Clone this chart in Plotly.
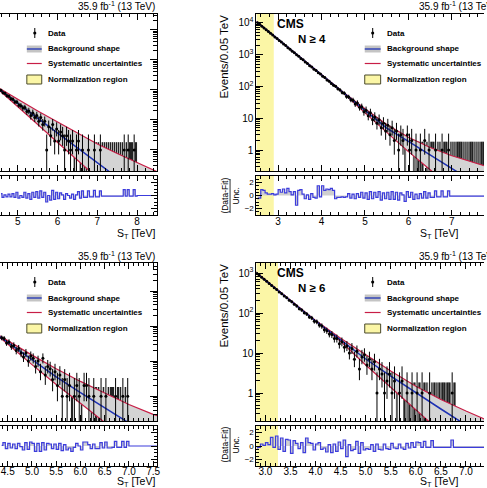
import numpy as np
import plotly.graph_objects as go

W, H = 487, 488
FONT = "Liberation Sans"
BIN = 0.05

# ---------------- data ----------------
# Panel A (top-left): counts per 0.05 TeV bin, first bin centre 4.575
A_first_bin = 4.575
A_counts = [98, 80, 77, 64, 62, 51, 49, 40, 40, 31, 30, 25, 26, 19, 20, 14, 17, 12, 14, 9, 12, 7, 9,
            1, 6, 3, 7, 2, 5, 2, 4, 3, 1, 3, 2, 1, 2, 0, 1, 2, 0, 1, 0, 0, 1, 0, 0, 1, 0, 0, 1,
            0, 0, 0, 0, 0, 0, 0, 0, 0, 0, 0,
            1, 0, 1, 0, 0, 1, 0]
A_pull = [0.3, -0.3, 0.1, -0.2, 0.2, -0.2, 0.3, -0.3, 0.5, -0.4,
          0.0, -0.3, 0.5, -0.4, 0.3, -0.6, 0.5, -0.3, 0.6, -0.4,
          0.7, -0.3, 0.5, -1.0, 0.0, -0.7, 0.8, -0.6, 0.5, -0.5,
          0.4, 0.1, -0.6, 0.3, 0.0, -0.4, 0.2, -0.6, 0.1, 0.6,
          -0.4, 0.7, -0.3, -0.3, 0.7, -0.2, -0.2, 0.8, -0.2, -0.2,
          0.7, -0.1, -0.1, -0.1, -0.1, -0.1, -0.1, -0.1, -0.1, -0.1,
          -0.1, -0.1, 0.9, -0.1, 0.9, -0.1, -0.1, 0.9, -0.1, 0.0,
          0, 0, 0, 0, 0, 0, 0, 0, 0]
A_curve_st = [4.5, 5.0, 5.5, 6.0, 6.5, 7.0, 7.5, 8.0, 8.5]
A_fit = [112, 35.5, 11.2, 3.55, 1.15, 0.37, 0.12, 0.04, 0.013]
A_sys_up = [120, 47.9, 20.0, 8.5, 3.7, 1.58, 0.76, 0.37, 0.19]
A_sys_dn = [107, 28.2, 7.1, 1.78, 0.45, 0.11, 0.028, 0.007, 0.002]

# Panel B (top-right): N >= 4
B_first_bin = 2.525
B_counts = [10150, 9010, 7850, 6950, 6060, 5380, 4690, 4150, 3610, 3210,
            2790, 2490, 2150, 1930, 1660, 1490, 1280, 1150, 990, 890,
            760, 690, 590, 530, 450, 410, 350, 318, 270, 245,
            210, 190, 160, 147, 125, 110, 101, 84, 78, 64,
            61, 48, 47, 38, 37, 28, 30, 22, 23, 16,
            18, 12, 15, 9, 11, 7, 9, 5, 7, 4,
            6, 3, 5, 2, 4, 1, 3, 2, 0, 3,
            1, 2, 0, 1, 0, 1, 0, 2, 0, 1,
            0, 0, 1, 0, 0, 1, 0, 0, 1, 0,
            0, 0, 0, 0, 0, 0, 0, 0, 0, 0, 0, 0, 0, 0, 0, 0, 0, 0, 0, 0]
B_pull = [-0.5, -0.4, 0.9, 0.8, 0.4, 0.2, 0.2, 0.3, 0.1, 0.2,
          0.9, 0.5, 1.0, 0.4, 1.1, 0.6, 0.1, 0.6, -1.5, 0.8,
          0.9, 0.2, -0.5, 0.1, -0.6, 0.3, -0.3, -0.4, 1.5, -0.2,
          1.5, 0.8, 1.0, 0.9, 1.1, 0.8, -0.5, -0.3, -0.3, -0.2,
          -0.3, -0.2, 0.3, -0.4, 0.2, -0.5, 0.3, -0.3, 0.5, -0.4,
          0.4, -0.6, 0.6, -0.5, 0.5, -0.3, 0.6, -0.7, 0.4, -0.5,
          0.5, -0.6, 0.6, -0.6, 0.5, -0.7, 0.4, 0.1, -0.9, 0.6,
          -0.3, 0.5, -0.6, 0.2, -0.5, 0.3, -0.4, 0.6, -0.4, 0.4,
          -0.3, -0.3, 0.7, -0.2, -0.2, 0.7, -0.2, -0.2, 0.7, -0.1,
          -0.1, -0.1, -0.1, -0.1, -0.1, -0.1, -0.1, -0.1, -0.1, -0.1,
          -0.1, -0.1, -0.1, -0.1, -0.1, -0.1, -0.1, -0.1, -0.1, -0.1]
B_curve_st = [2.5, 3.0, 3.5, 4.0, 4.5, 5.0, 5.5, 6.0, 6.5, 7.0, 7.5, 8.0]
B_fit = [10965, 3020, 832, 229, 64.6, 17.8, 4.9, 1.86, 0.71, 0.26, 0.1, 0.037]
B_sys_up = [11100, 3060, 845, 233, 66.1, 20.0, 6.31, 2.51, 1.20, 0.66, 0.40, 0.25]
B_sys_dn = [10830, 2980, 820, 225, 61.7, 14.8, 3.55, 0.89, 0.24, 0.063, 0.016, 0.004]
B_norm = [2.5, 2.9]

# Panel C (bottom-left)
C_first_bin = 4.375
C_counts = [46, 44, 33, 35, 26, 28, 20, 23, 17, 13,
            17, 10, 14, 12, 7, 10, 5, 12, 4, 7,
            6, 3, 5, 2, 4, 1, 3, 1, 2, 0,
            1, 2, 1, 0, 2, 2, 1, 0, 1, 0,
            0, 1, 0, 1, 0, 0, 0, 1, 0, 0,
            1, 0, 1]
C_pull = [0.1, 0.5, -0.4, 0.4, -0.3, 0.3, -0.4, 0.4, -0.1, -0.6,
          0.5, -0.5, 0.6, 0.4, -0.8, 0.4, -0.8, 0.5, -0.6, 0.4,
          0.3, -0.4, 0.3, -0.5, 0.4, -0.7, 0.2, -0.6, -0.3, -0.8,
          -0.2, 0.4, 0.0, -0.6, 0.6, 0.6, 0.2, -0.4, 0.3, -0.4,
          -0.4, 0.5, -0.3, 0.6, -0.3, -0.3, -0.2, 0.7, -0.2, -0.2,
          0.7, -0.2, 0.7, 0.0, 0.0, 0.0, 0.0, 0.0, 0.0, 0.0,
          0.0, 0.0, 0.0, 0.0, 0.0]
C_curve_st = [4.3, 4.5, 5.0, 5.5, 6.0, 6.5, 7.0, 7.5, 7.6]
C_fit = [53.7, 33.9, 10.7, 3.55, 1.26, 0.447, 0.166, 0.063, 0.052]
C_sys_up = [56.2, 38.0, 14.8, 6.03, 2.63, 1.23, 0.575, 0.302, 0.27]
C_sys_dn = [51.3, 30.9, 7.94, 2.14, 0.63, 0.178, 0.05, 0.014, 0.011]

# Panel D (bottom-right): N >= 6
D_first_bin = 2.825
D_counts = [990, 890, 780, 700, 620, 545, 490, 430, 385, 335,
            305, 265, 240, 208, 190, 166, 150, 128, 118, 102,
            94, 80, 75, 62, 60, 50, 47, 38, 36, 30,
            29, 23, 23, 17, 19, 14, 15, 10, 13, 7,
            11, 4, 8, 9, 5, 7, 4, 6, 1, 4,
            3, 1, 2, 3, 1, 2, 0, 1, 2, 0,
            1, 0, 1, 0, 1, 0, 1, 0, 0, 1,
            0, 0, 0, 0, 0, 0, 0, 0, 1, 0]
D_pull = [-0.3, -0.2, 0.3, 0.1, 0.5, 0.2, 1.3, -0.2, 1.5, -0.5,
          1.2, -0.8, 1.0, 0.9, -1.1, 0.8, 0.4, -0.4, 0.5, -1.0,
          1.2, 0.5, 0.4, -0.6, 0.3, 0.5, -0.5, -0.3, -0.9, 0.2,
          -1.0, 0.3, -0.8, 0.6, -0.4, 0.9, -1.6, 0.2, -0.7, -0.5,
          0.7, -1.1, 0.5, -0.6, -0.4, -0.5, 0.2, -0.8, 0.3, -0.5,
          -0.6, 0.3, -0.4, -0.5, 0.4, -0.3, -0.4, 0.3, -0.3, -0.5,
          0.4, -0.3, 0.5, -0.2, 0.6, 0.5, -0.2, 0.7, -0.2, -0.2,
          0.8, -0.2, -0.2, -0.2, -0.2, -0.2, -0.2, -0.2, 0.9, -0.2,
          -0.2, -0.2, -0.2, -0.2, -0.2, -0.2, -0.2, -0.2, -0.2, -0.2,
          -0.2, -0.2]
D_curve_st = [2.8, 3.0, 3.5, 4.0, 4.5, 5.0, 5.5, 6.0, 6.5, 7.0, 7.5]
D_fit = [1047, 661, 200, 63.1, 21.4, 7.08, 2.63, 1.0, 0.398, 0.158, 0.063]
D_sys_up = [1072, 676, 204, 64.6, 23.4, 8.91, 3.55, 1.48, 0.69, 0.355, 0.19]
D_sys_dn = [1023, 646, 195, 61.7, 19.5, 5.01, 1.32, 0.355, 0.1, 0.028, 0.008]
D_norm = [2.8, 3.25]

LOG_TICKS = [1, 10, 100, 1000, 10000]
LOG_LABELS = ["1", "10", "10<sup>2</sup>", "10<sup>3</sup>", "10<sup>4</sup>"]
PULL_TICKS = [-2, 0, 2]
PULL_LABELS = ["\u22122", "0", "2"]
LUMI = "35.9 fb<sup>-1</sup> (13 TeV)"
LEG_LABELS = ["Data", "Background shape", "Systematic uncertainties", "Normalization region"]

# ---------------- style ----------------
RED = "#c81e46"
BLUE = "#1e32b4"
PULLC = "#3c3cdc"
BAND = "#d4d4d4"
PFILL = "#cfcfcf"
ZGREY = "#ababab"
YEL = "#fbf6a6"


def PX(x):
    return x / W


def PY(y):
    return 1 - y / H


XDOM = {"L": [0, 158 / W], "R": [258 / W, 1]}
YDOM = {"T": ([PY(171), PY(14)], [PY(215), PY(176)]),
        "B": ([PY(421), PY(263)], [PY(466), PY(426)])}
TOP = {"T": 0, "B": 249}
STANDOFF = {"T": -3, "B": -4}
XTITLE = {"T": 234, "B": 232.5}

panels = [
    dict(counts=A_counts, first=A_first_bin, pull=A_pull, cx=A_curve_st, fit=A_fit, up=A_sys_up,
         dn=A_sys_dn, norm=None, col="L", row="T", xr=[4.55, 8.5], yr=[-0.7, 4.53], dtick=1,
         mdtick=0.2, fmt="d", label=None),
    dict(counts=B_counts, first=B_first_bin, pull=B_pull, cx=B_curve_st, fit=B_fit, up=B_sys_up,
         dn=B_sys_dn, norm=B_norm, col="R", row="T", xr=[2.5, 7.74], yr=[-0.66, 4.28], dtick=1,
         mdtick=0.2, fmt="d", label="N \u2265 4"),
    dict(counts=C_counts, first=C_first_bin, pull=C_pull, cx=C_curve_st, fit=C_fit, up=C_sys_up,
         dn=C_sys_dn, norm=None, col="L", row="B", xr=[4.34, 7.58], yr=[-0.71, 3.8], dtick=0.5,
         mdtick=0.1, fmt=".1f", label=None),
    dict(counts=D_counts, first=D_first_bin, pull=D_pull, cx=D_curve_st, fit=D_fit, up=D_sys_up,
         dn=D_sys_dn, norm=D_norm, col="R", row="B", xr=[2.82, 7.36], yr=[-0.7, 3.25], dtick=0.5,
         mdtick=0.1, fmt=".1f", label="N \u2265 6"),
]


def names(n):
    s = "" if n == 1 else str(n)
    return "x" + s, "y" + s, "xaxis" + s, "yaxis" + s


def poisson_err(n):
    n = np.asarray(n, float)
    m = np.maximum(n, 1)
    lo = np.where(n > 0, n - n * (1 - 1 / (9 * m) - 1 / (3 * np.sqrt(m))) ** 3, 0)
    hi = (n + 1) * (1 - 1 / (9 * (n + 1)) + 1 / (3 * np.sqrt(n + 1))) ** 3 - n
    return lo, hi


minor_log = [m * 10.0 ** e for e in range(-1, 5) for m in range(2, 10)]

fig = go.Figure()
layout = dict(width=W, height=H, margin=dict(l=0, r=0, t=0, b=0), paper_bgcolor="white",
              plot_bgcolor="rgba(0,0,0,0)", showlegend=False, barmode="overlay",
              font=dict(family=FONT, color="black"))
shapes, annots = [], []

for i, p in enumerate(panels):
    xm, ym, XM, YM = names(2 * i + 1)
    xq, yq, XQ, YQ = names(2 * i + 2)
    xdom = XDOM[p["col"]]
    mdom, rdom = YDOM[p["row"]]
    counts = np.array(p["counts"], float)
    st = np.array([p["first"] + BIN * k for k in range(len(counts))])
    lo, hi = poisson_err(counts)

    fig.add_trace(go.Scatter(x=p["cx"], y=p["up"], mode="lines", line=dict(color=RED, width=1.2),
                             xaxis=xm, yaxis=ym))
    fig.add_trace(go.Scatter(x=p["cx"], y=p["dn"], mode="lines", line=dict(color=RED, width=1.2),
                             fill="tonexty", fillcolor=BAND, xaxis=xm, yaxis=ym))
    fig.add_trace(go.Scatter(x=p["cx"], y=p["fit"], mode="lines", line=dict(color=BLUE, width=1.5),
                             xaxis=xm, yaxis=ym))
    z = counts == 0
    fig.add_trace(go.Bar(x=st[z], y=hi[z], width=BIN, marker=dict(color=ZGREY, line=dict(width=0)),
                         xaxis=xm, yaxis=ym))
    fig.add_trace(go.Bar(x=st[z], y=hi[z], width=0.011, marker=dict(color="#222222", line=dict(width=0)),
                         xaxis=xm, yaxis=ym))
    nz = ~z
    fig.add_trace(go.Scatter(x=st[nz], y=counts[nz], mode="markers",
                             marker=dict(size=3, color="black"),
                             error_y=dict(type="data", symmetric=False, array=hi[nz], arrayminus=lo[nz],
                                          color="black", thickness=1, width=0),
                             xaxis=xm, yaxis=ym))
    pst = [p["first"] + BIN * k for k in range(len(p["pull"]))]
    fig.add_trace(go.Scatter(x=pst, y=p["pull"], mode="lines",
                             line=dict(color=PULLC, width=1.2, shape="hvh"),
                             fill="tozeroy", fillcolor=PFILL, xaxis=xq, yaxis=yq))

    cx = dict(domain=xdom, range=p["xr"], showline=True, linecolor="black", linewidth=1, mirror="ticks",
              ticks="inside", tickcolor="black", tickwidth=1, showgrid=False, zeroline=False,
              tick0=0, dtick=p["dtick"],
              minor=dict(ticks="inside", ticklen=3, tickcolor="black", dtick=p["mdtick"], tick0=0,
                         showgrid=False))
    layout[XM] = dict(cx, anchor=ym, ticklen=6, showticklabels=False)
    layout[XQ] = dict(cx, anchor=yq, ticklen=5, showticklabels=True, tickformat=p["fmt"],
                      ticklabelstandoff=STANDOFF[p["row"]],
                      tickfont=dict(size=10, family=FONT, color="black"))
    side = "right" if p["col"] == "L" else "left"
    layout[YM] = dict(domain=mdom, anchor=xm, type="log", range=p["yr"], side=side, showline=True,
                      linecolor="black", linewidth=1, ticks="inside", ticklen=7, tickcolor="black",
                      tickvals=LOG_TICKS, ticktext=LOG_LABELS, showticklabels=(side == "left"),
                      tickfont=dict(size=10, family=FONT, color="black"), showgrid=False, zeroline=False,
                      minor=dict(ticks="inside", ticklen=4, tickmode="array", tickvals=minor_log,
                                 tickcolor="black", showgrid=False))
    layout[YQ] = dict(domain=rdom, anchor=xq, range=[-3, 3], side=side, showline=True, linecolor="black",
                      linewidth=1, ticks="inside", ticklen=6, tickcolor="black", tickvals=PULL_TICKS,
                      ticktext=PULL_LABELS, showticklabels=(side == "left"),
                      tickfont=dict(size=8, family=FONT, color="black"), showgrid=False, zeroline=False,
                      minor=dict(ticks="inside", ticklen=3, dtick=0.5, tick0=0, tickcolor="black",
                                 showgrid=False))

    if p["norm"] is not None:
        for yref in (ym, yq):
            shapes.append(dict(type="rect", xref=xm if yref == ym else xq, yref=yref + " domain",
                               x0=p["norm"][0], x1=p["norm"][1], y0=0, y1=1, fillcolor=YEL,
                               line=dict(width=0), layer="below"))

    t = TOP[p["row"]]
    xt = XTITLE[p["row"]]
    if p["col"] == "L":
        annots.append(dict(x=PX(158), y=PY(t + 6.5), xref="paper", yref="paper", text=LUMI,
                           showarrow=False, xanchor="right", yanchor="middle",
                           font=dict(size=10, family=FONT)))
        annots.append(dict(x=PX(158), y=PY(t + xt), xref="paper", yref="paper",
                           text="S<sub>T</sub> [TeV]", showarrow=False, xanchor="right",
                           yanchor="middle", font=dict(size=10.5, family=FONT)))
        bx0, bx1, mx, tx = 27, 42, 35, 46
    else:
        annots.append(dict(x=PX(420), y=PY(t + 6.5), xref="paper", yref="paper", text=LUMI,
                           showarrow=False, xanchor="left", yanchor="middle",
                           font=dict(size=10, family=FONT)))
        annots.append(dict(x=PX(421), y=PY(t + xt), xref="paper", yref="paper",
                           text="S<sub>T</sub> [TeV]", showarrow=False, xanchor="left",
                           yanchor="middle", font=dict(size=10.5, family=FONT)))
        annots.append(dict(x=PX(277), y=PY(t + 24), xref="paper", yref="paper", text="<b>CMS</b>",
                           showarrow=False, xanchor="left", yanchor="middle",
                           font=dict(size=12, family=FONT)))
        annots.append(dict(x=PX(298), y=PY(t + 39), xref="paper", yref="paper",
                           text="<b>" + p["label"] + "</b>", showarrow=False, xanchor="left",
                           yanchor="middle", font=dict(size=11.5, family=FONT)))
        annots.append(dict(x=PX(225), y=PY(t + 57), xref="paper", yref="paper",
                           text="Events/0.05 TeV", showarrow=False, textangle=-90,
                           xanchor="center", yanchor="middle", font=dict(size=11.5, family=FONT)))
        annots.append(dict(x=PX(226), y=PY(t + 196), xref="paper", yref="paper", text="(Data-Fit)",
                           showarrow=False, textangle=-90, xanchor="center", yanchor="middle",
                           font=dict(size=8.5, family=FONT)))
        annots.append(dict(x=PX(237), y=PY(t + 196), xref="paper", yref="paper", text="Unc.",
                           showarrow=False, textangle=-90, xanchor="center", yanchor="middle",
                           font=dict(size=8.5, family=FONT)))
        shapes.append(dict(type="line", xref="paper", yref="paper", x0=PX(231.5), x1=PX(231.5),
                           y0=PY(t + 179), y1=PY(t + 213), line=dict(color="black", width=0.8)))
        bx0, bx1, mx, tx = 367, 383, 375, 387

    rows = [t + 33, t + 49, t + 63.5, t + 79.5]
    for lab, ry in zip(LEG_LABELS, rows):
        annots.append(dict(x=PX(tx), y=PY(ry), xref="paper", yref="paper", text="<b>" + lab + "</b>",
                           showarrow=False, xanchor="left", yanchor="middle",
                           font=dict(size=8, family=FONT)))
    # legend symbols
    shapes.append(dict(type="line", xref="paper", yref="paper", x0=PX(mx), x1=PX(mx),
                       y0=PY(rows[0] - 5), y1=PY(rows[0] + 5), line=dict(color="black", width=1)))
    shapes.append(dict(type="circle", xref="paper", yref="paper", x0=PX(mx - 1.6), x1=PX(mx + 1.6),
                       y0=PY(rows[0] - 1.6), y1=PY(rows[0] + 1.6), fillcolor="black",
                       line=dict(width=0)))
    shapes.append(dict(type="rect", xref="paper", yref="paper", x0=PX(bx0), x1=PX(bx1),
                       y0=PY(rows[1] - 3.5), y1=PY(rows[1] + 3.5), fillcolor="#c4c4c4",
                       line=dict(width=0)))
    shapes.append(dict(type="line", xref="paper", yref="paper", x0=PX(bx0), x1=PX(bx1),
                       y0=PY(rows[1]), y1=PY(rows[1]), line=dict(color=BLUE, width=1.3)))
    shapes.append(dict(type="line", xref="paper", yref="paper", x0=PX(bx0), x1=PX(bx1),
                       y0=PY(rows[2]), y1=PY(rows[2]), line=dict(color=RED, width=1.2)))
    shapes.append(dict(type="rect", xref="paper", yref="paper", x0=PX(bx0), x1=PX(bx1),
                       y0=PY(rows[3] - 4.5), y1=PY(rows[3] + 4.5), fillcolor=YEL,
                       line=dict(color="#4a4a2a", width=1)))

layout["shapes"] = shapes
layout["annotations"] = annots
fig.update_layout(**layout)
fig.write_html("out.html")
